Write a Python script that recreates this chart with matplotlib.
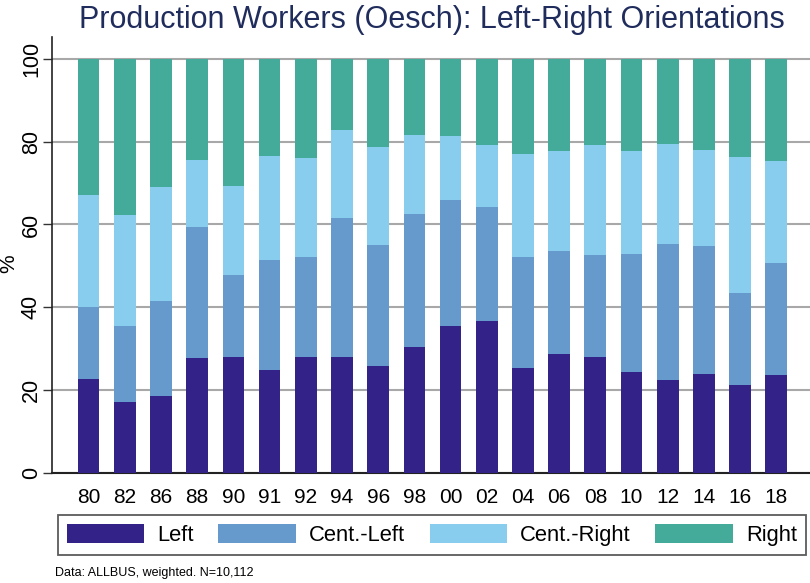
import matplotlib
matplotlib.use("Agg")
import matplotlib.pyplot as plt
import numpy as np

years = ["80", "82", "86", "88", "90", "91", "92", "94", "96", "98",
         "00", "02", "04", "06", "08", "10", "12", "14", "16", "18"]
left = [22.6, 17.2, 18.6, 27.7, 28.0, 24.8, 28.0, 28.0, 25.9, 30.5,
        35.4, 36.6, 25.4, 28.7, 28.0, 24.3, 22.3, 23.9, 21.2, 23.6]
cent_left = [17.5, 18.3, 23.0, 31.6, 19.8, 26.6, 24.1, 33.5, 29.1, 32.0,
             30.4, 27.7, 26.8, 25.0, 24.5, 28.5, 32.9, 30.9, 22.2, 27.2]
cent_right = [26.9, 26.8, 27.5, 16.3, 21.6, 25.2, 24.0, 21.4, 23.6, 19.0,
              15.6, 14.8, 24.9, 24.0, 26.6, 24.9, 24.3, 23.1, 32.8, 24.5]
right = [100 - a - b - c for a, b, c in zip(left, cent_left, cent_right)]

series_names = ["Left", "Cent.-Left", "Cent.-Right", "Right"]
colors = ["#332288", "#6699CC", "#88CCEE", "#44AA99"]

regular = ["Liberation Sans", "DejaVu Sans"]

fig = plt.figure(figsize=(8.1, 5.83), dpi=100)
ax = fig.add_axes([0.0638, 0.1892, 0.9362, 0.7473])

x = np.arange(len(years))
bottom = np.zeros(len(years))
handles = []
for vals, name, col in zip([left, cent_left, cent_right, right], series_names, colors):
    b = ax.bar(x, vals, width=0.6, bottom=bottom, color=col, label=name,
               zorder=3, linewidth=0)
    handles.append(b)
    bottom += np.array(vals)

ax.set_xlim(-1.02, 19.93)
ax.set_ylim(0, 105.3)
ax.set_yticks([0, 20, 40, 60, 80, 100])
ax.set_yticklabels(["0", "20", "40", "60", "80", "100"], rotation=90,
                   va="center", family=regular, fontsize=15.5)
ax.set_xticks(x)
ax.set_xticklabels(years, family=regular, fontsize=15)
ax.tick_params(axis="x", length=0, pad=11)
ax.tick_params(axis="y", length=6.5, width=1, color="#333333", pad=0.5)
ax.yaxis.grid(True, color="#a8a8a8", linewidth=1.5, zorder=0)
ax.set_axisbelow(True)
for s in ["top", "right"]:
    ax.spines[s].set_visible(False)
ax.spines["left"].set_color("#222222")
ax.spines["bottom"].set_color("#222222")
ax.spines["left"].set_linewidth(1.2)
ax.spines["bottom"].set_linewidth(1.5)

ax.set_ylabel("%", family=regular, fontsize=15)
ax.yaxis.set_label_coords(-0.044, 0.48)

fig.text(0.533, 0.966, "Production Workers (Oesch): Left-Right Orientations",
         ha="center", va="center", fontsize=22, family=regular, color="#1f2c5c")

leg = fig.legend(handles=handles, labels=series_names, loc="center",
                 bbox_to_anchor=(0.533, 0.0823), ncol=4, frameon=True,
                 prop={"family": regular, "size": 15.8}, handlelength=3.52,
                 handleheight=1.0, handletextpad=0.6, columnspacing=1.13,
                 fancybox=False, borderpad=0.4, borderaxespad=0)
leg.get_frame().set_edgecolor("#333333")
leg.get_frame().set_linewidth(1.3)

fig.text(0.068, 0.017, "Data: ALLBUS, weighted. N=10,112", ha="left", va="center",
         fontsize=9, family=regular)

fig.savefig("out.png", dpi=100)
